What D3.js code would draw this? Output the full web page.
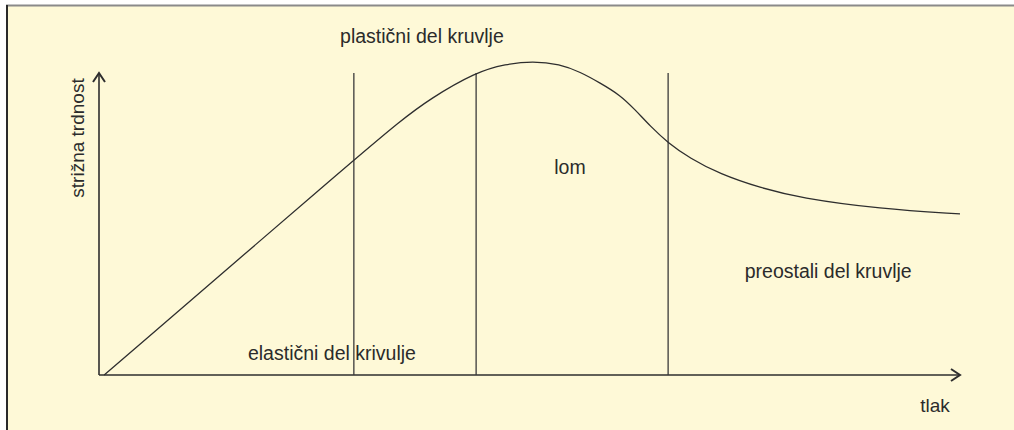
<!DOCTYPE html>
<html>
<head>
<meta charset="utf-8">
<script src="https://cdn.jsdelivr.net/npm/d3@7"></script>
<style>
  body { margin: 0; background: #fff; }
  text { font-family: "Liberation Sans", Arial, sans-serif; fill: #2b2b2b; }
</style>
</head>
<body>
<div id="main"></div>
<script>
// curve of shear strength vs pressure (arbitrary units 0..100)
const curveX = [0.6, 29.6, 35.0, 38.4, 43.8, 47.2, 50.4, 53.5, 55.9, 58.2, 60.5, 62.3, 64.0, 66.1, 68.6, 72.1, 76.8, 81.4, 90.7, 100];
const curveY = [0, 68.5, 80.9, 87.9, 96.5, 99.0, 100, 99.0, 96.5, 93.0, 89.2, 84.4, 79.3, 73.9, 69.1, 64.0, 59.6, 56.4, 52.9, 51.3];

// boundaries between the zones
const dividers = [29.6, 43.8, 66.1];
const axisTop = 96.2;

const labels = [
    { text: "plastični del kruvlje", x: 28.0, y: 105.7, anchor: "start" },
    { text: "lom", x: 54.7, y: 64.0, anchor: "middle" },
    { text: "elastični del krivulje", x: 17.3, y: 4.8, anchor: "start" },
    { text: "preostali del kruvlje", x: 75.0, y: 30.9, anchor: "start" }
];
const xTitle = "tlak";
const yTitle = "strižna trdnost";

const width = 1014, height = 430;

const svg = d3.select('#main')
    .append('svg')
    .attr('width', width)
    .attr('height', height);

// panel
svg.append('rect')
    .attr('x', 6).attr('y', 6)
    .attr('width', width - 6).attr('height', height - 6)
    .attr('fill', '#fef9d7');
svg.append('line')
    .attr('x1', 6).attr('x2', width).attr('y1', 5.5).attr('y2', 5.5)
    .attr('stroke', '#8a8a8a').attr('stroke-width', 2);
svg.append('line')
    .attr('x1', 7).attr('x2', 7).attr('y1', 5).attr('y2', height)
    .attr('stroke', '#2a2a2a').attr('stroke-width', 2);

const x = d3.scaleLinear().domain([0, 100]).range([99, 960]);
const y = d3.scaleLinear().domain([0, 100]).range([375, 61]);

const ink = '#2e2e2e';

// axes with arrows
svg.append('line')
    .attr('x1', x(0)).attr('x2', x(0))
    .attr('y1', y(0)).attr('y2', y(axisTop))
    .attr('stroke', ink).attr('stroke-width', 1.6);
svg.append('line')
    .attr('x1', x(0)).attr('x2', x(100))
    .attr('y1', y(0)).attr('y2', y(0))
    .attr('stroke', ink).attr('stroke-width', 1.6);

svg.append('path')
    .attr('d', `M${x(0) - 6},${y(axisTop) + 9} L${x(0)},${y(axisTop)} L${x(0) + 6},${y(axisTop) + 9}`)
    .attr('fill', 'none').attr('stroke', ink).attr('stroke-width', 2);
svg.append('path')
    .attr('d', `M${x(100) - 9},${y(0) - 6} L${x(100)},${y(0)} L${x(100) - 9},${y(0) + 6}`)
    .attr('fill', 'none').attr('stroke', ink).attr('stroke-width', 2);

// zone dividers
svg.selectAll('line.div')
    .data(dividers)
    .enter()
    .append('line')
    .attr('class', 'div')
    .attr('x1', d => x(d)).attr('x2', d => x(d))
    .attr('y1', y(0)).attr('y2', y(axisTop))
    .attr('stroke', '#3a3a3a').attr('stroke-width', 1.3);

// the curve
const pts = curveX.map((v, i) => [v, curveY[i]]);
const line = d3.line()
    .x(d => x(d[0]))
    .y(d => y(d[1]))
    .curve(d3.curveBasis);

svg.append('path')
    .datum(pts)
    .attr('d', line)
    .attr('fill', 'none')
    .attr('stroke', ink)
    .attr('stroke-width', 1.3);

// labels
svg.selectAll('text.lab')
    .data(labels)
    .enter()
    .append('text')
    .attr('class', 'lab')
    .attr('x', d => x(d.x))
    .attr('y', d => y(d.y))
    .attr('text-anchor', d => d.anchor)
    .style('font-size', '19.5px')
    .text(d => d.text);

svg.append('text')
    .attr('x', 935).attr('y', 412)
    .attr('text-anchor', 'middle')
    .style('font-size', '19px')
    .text(xTitle);

svg.append('text')
    .attr('transform', 'translate(84,138) rotate(-90)')
    .attr('text-anchor', 'middle')
    .style('font-size', '19px')
    .text(yTitle);
</script>
</body>
</html>
